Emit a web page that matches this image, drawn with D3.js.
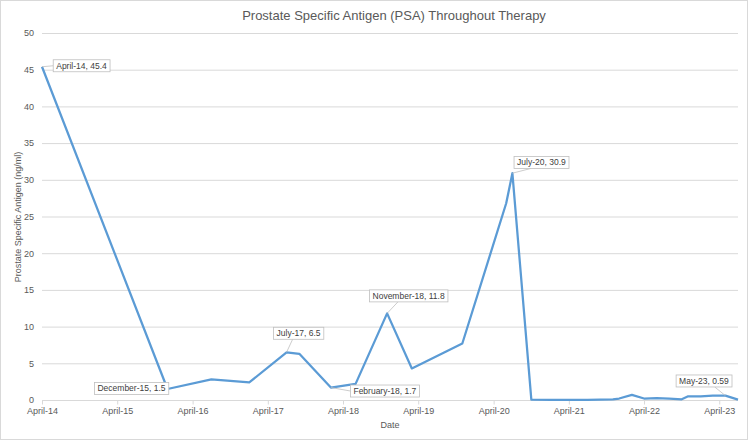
<!DOCTYPE html>
<html><head><meta charset="utf-8">
<script src="https://cdn.jsdelivr.net/npm/d3@7"></script>
<style>
body{margin:0;background:#fff;}
svg{display:block;font-family:"Liberation Sans",Arial,sans-serif;}
</style></head>
<body><svg id="c" width="750" height="441"></svg>
<script>
const dates = ["2014-04","2015-12","2016-07","2017-01","2017-07","2017-09","2018-02","2018-06","2018-11","2019-03","2019-11","2020-06","2020-07","2020-10","2021-01","2021-04","2021-07","2021-11","2021-12","2022-02","2022-04","2022-06","2022-08","2022-10","2022-11","2023-01","2023-03","2023-05","2023-07"];
const psa = [45.4,1.5,2.8,2.4,6.5,6.3,1.7,2.2,11.8,4.3,7.7,26.8,30.9,0.05,0.03,0.03,0.03,0.1,0.2,0.7,0.2,0.25,0.2,0.1,0.5,0.5,0.6,0.59,0.05];
const yTicks = [0,5,10,15,20,25,30,35,40,45,50];
const xTickDates = ["2014-04","2015-04","2016-04","2017-04","2018-04","2019-04","2020-04","2021-04","2022-04","2023-04"];
const labelIdx = [0,1,4,6,8,12,27];
const labelOffsets = [[39.5,-1],[-36,-0.5],[12,-19],[54,3.5],[21.5,-17.5],[29,-10.7],[-21.5,-14.7]];

const parse = d3.timeParse("%Y-%m");
const data = dates.map((d,i)=>({date:parse(d), v:psa[i]}));
const svg = d3.select("#c");
const W=750,H=441;
svg.append("rect").attr("x",0.5).attr("y",0.5).attr("width",747).attr("height",439).attr("fill","#fff").attr("stroke","#d9d9d9");

const x = d3.scaleTime().domain([data[0].date, data[data.length-1].date]).range([42,738]);
const y = d3.scaleLinear().domain([0,50]).range([400,33]);

// gridlines
svg.append("g").selectAll("line").data(yTicks.filter(t=>t>0)).join("line")
  .attr("x1",42).attr("x2",738).attr("y1",d=>y(d)+0.5).attr("y2",d=>y(d)+0.5)
  .attr("stroke","#d9d9d9").attr("stroke-width",1);

// y axis
const ya = svg.append("g").attr("transform","translate(42,0)")
  .call(d3.axisLeft(y).tickValues(yTicks).tickSize(0).tickPadding(8));
ya.select(".domain").remove();
ya.selectAll("text").attr("fill","#595959").style("font-size","9px").style("font-family","Liberation Sans, Arial, sans-serif");

// x axis
const xa = svg.append("g").attr("transform","translate(0,400.5)")
  .call(d3.axisBottom(x).tickValues(xTickDates.map(parse)).tickFormat(d3.timeFormat("%B-%y")).tickSize(4).tickPadding(3));
xa.select(".domain").attr("stroke","#d9d9d9").attr("d","M42,0H738");
xa.selectAll(".tick line").attr("stroke","#d9d9d9");
xa.selectAll("text").attr("fill","#595959").style("font-size","9px").style("font-family","Liberation Sans, Arial, sans-serif");

// line
svg.append("path").datum(data)
  .attr("fill","none").attr("stroke","#5B9BD5").attr("stroke-width",2.25).attr("stroke-linejoin","round")
  .attr("d",d3.line().x(d=>x(d.date)).y(d=>y(d.v)));

// title
svg.append("text").attr("x",394).attr("y",20).attr("text-anchor","middle")
  .attr("fill","#595959").style("font-size","13px").text("Prostate Specific Antigen (PSA) Throughout Therapy");
// axis titles
svg.append("text").attr("x",390).attr("y",428).attr("text-anchor","middle")
  .attr("fill","#595959").style("font-size","9px").text("Date");
svg.append("text").attr("transform","translate(21,217) rotate(-90)").attr("text-anchor","middle")
  .attr("fill","#595959").style("font-size","9px").text("Prostate Specific Antigen (ng/ml)");

// data labels
const fmtL = d3.timeFormat("%B-%y");
const lg = svg.append("g");
labelIdx.forEach((idx,k)=>{
  const d = data[idx];
  const px = x(d.date), py = y(d.v);
  const cx = px + labelOffsets[k][0], cy = py + labelOffsets[k][1];
  const g = lg.append("g");
  const t = g.append("text").attr("x",cx).attr("y",cy).attr("text-anchor","middle").attr("dy","0.35em")
    .attr("fill","#404040").style("font-size","8.5px").text(fmtL(d.date)+", "+d.v);
  const bb = t.node().getBBox();
  const bx = bb.x-3, by = cy-6, bw = bb.width+6, bh = 12;
  const qx = Math.max(bx, Math.min(px, bx+bw)), qy = Math.max(by, Math.min(py, by+bh));
  if (Math.hypot(qx-px,qy-py) > 3) {
    // leader to nearest edge midpoint-ish
    let ex, ey;
    if (py > by+bh) { ex = Math.max(bx+6, Math.min(px, bx+bw-6)); ey = by+bh; ex = (ex+ (bx+bw/2))/2; }
    else if (py < by) { ex = (Math.max(bx, Math.min(px, bx+bw)) + bx+bw/2)/2; ey = by; }
    else if (px < bx) { ex = bx; ey = by+bh/2; }
    else { ex = bx+bw; ey = by+bh/2; }
    g.insert("line","text").attr("x1",px).attr("y1",py).attr("x2",ex).attr("y2",ey).attr("stroke","#bfbfbf").attr("stroke-width",0.8);
  }
  g.insert("rect","text").attr("x",bx).attr("y",by).attr("width",bw).attr("height",bh)
    .attr("fill","#fff").attr("stroke","#bfbfbf").attr("stroke-width",0.8);
});
</script></body></html>
